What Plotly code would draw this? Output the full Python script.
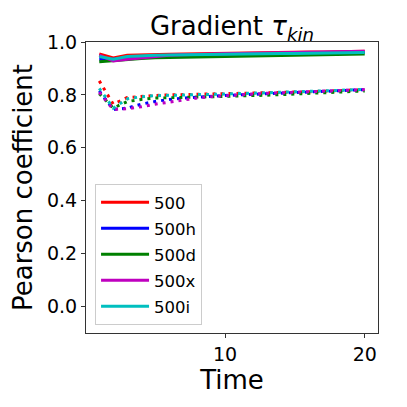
import plotly.graph_objects as go

time = list(range(1, 21))
names = ["500", "500h", "500d", "500x", "500i"]
colors = ["#ff0000", "#0000ff", "#008000", "#bf00bf", "#00bfbf"]

solid = {
    "500":  [0.955, 0.940, 0.950, 0.952, 0.953, 0.954, 0.955, 0.956, 0.957, 0.958,
             0.958, 0.959, 0.960, 0.960, 0.961, 0.962, 0.962, 0.963, 0.964, 0.965],
    "500h": [0.935, 0.935, 0.940, 0.943, 0.945, 0.947, 0.948, 0.949, 0.950, 0.951,
             0.952, 0.953, 0.954, 0.955, 0.955, 0.956, 0.957, 0.958, 0.959, 0.960],
    "500d": [0.925, 0.930, 0.935, 0.938, 0.940, 0.941, 0.942, 0.943, 0.944, 0.945,
             0.946, 0.947, 0.948, 0.949, 0.950, 0.951, 0.952, 0.953, 0.954, 0.955],
    "500x": [0.950, 0.928, 0.935, 0.940, 0.945, 0.950, 0.952, 0.954, 0.955, 0.956,
             0.957, 0.958, 0.959, 0.960, 0.961, 0.962, 0.962, 0.963, 0.964, 0.965],
    "500i": [0.945, 0.935, 0.945, 0.948, 0.950, 0.951, 0.952, 0.953, 0.954, 0.955,
             0.955, 0.956, 0.956, 0.957, 0.957, 0.958, 0.958, 0.959, 0.960, 0.960],
}

dotted = {
    "500":  [0.853, 0.765, 0.790, 0.795, 0.798, 0.800, 0.801, 0.802, 0.803, 0.804,
             0.805, 0.806, 0.808, 0.809, 0.810, 0.812, 0.814, 0.816, 0.818, 0.820],
    "500h": [0.815, 0.745, 0.750, 0.765, 0.775, 0.783, 0.788, 0.792, 0.795, 0.798,
             0.800, 0.802, 0.804, 0.806, 0.808, 0.810, 0.812, 0.815, 0.818, 0.820],
    "500d": [0.805, 0.750, 0.775, 0.783, 0.788, 0.790, 0.791, 0.792, 0.793, 0.794,
             0.795, 0.797, 0.799, 0.801, 0.803, 0.805, 0.807, 0.810, 0.812, 0.815],
    "500x": [0.810, 0.745, 0.748, 0.755, 0.765, 0.773, 0.782, 0.788, 0.793, 0.797,
             0.800, 0.803, 0.806, 0.808, 0.810, 0.812, 0.814, 0.816, 0.818, 0.820],
    "500i": [0.825, 0.750, 0.785, 0.793, 0.797, 0.799, 0.800, 0.801, 0.802, 0.803,
             0.804, 0.806, 0.808, 0.810, 0.811, 0.813, 0.815, 0.817, 0.819, 0.821],
}

xticks = [10, 20]
yticks = [0.0, 0.2, 0.4, 0.6, 0.8, 1.0]
ytick_labels = ["0.0", "0.2", "0.4", "0.6", "0.8", "1.0"]

fig = go.Figure()
for name, col in zip(names, colors):
    fig.add_trace(go.Scatter(x=time, y=solid[name], mode="lines", name=name,
                             legendgroup=name,
                             line=dict(color=col, width=3), showlegend=True))
    fig.add_trace(go.Scatter(x=time, y=dotted[name], mode="lines", name=name,
                             legendgroup=name,
                             line=dict(color=col, width=3, dash="3px,5px"),
                             showlegend=False))

font = "DejaVu Sans"
# the page body has an 8px margin, so the figure is 399px and offset accordingly
fig.update_layout(
    width=399, height=399,
    margin=dict(l=78, r=29, t=34, b=74, autoexpand=False),
    paper_bgcolor="white", plot_bgcolor="white",
    font=dict(family=font, color="black"),
    title=dict(text="Gradient <i>τ</i><sub><i>kin</i></sub>", x=0.5, xref="paper",
               xanchor="center", y=0.932, yanchor="bottom",
               font=dict(size=26, family=font)),
    legend=dict(x=0.031, y=0.027, xanchor="left", yanchor="bottom",
                bgcolor="rgba(255,255,255,0.8)", bordercolor="#cccccc", borderwidth=1,
                font=dict(size=16.5, family=font), tracegroupgap=1.5, itemwidth=48),
    showlegend=True,
)
fig.update_xaxes(range=[0.05, 20.95], tickvals=xticks, ticktext=[str(v) for v in xticks],
                 ticks="outside", ticklen=4, tickcolor="#333", showline=True, linecolor="#333",
                 linewidth=1.2, mirror=True, showgrid=False, zeroline=False, automargin=False,
                 tickfont=dict(size=19), title=dict(text="Time", font=dict(size=26), standoff=0))
fig.update_yaxes(range=[-0.1, 1.0], tickvals=yticks, ticktext=ytick_labels,
                 ticks="outside", ticklen=4, tickcolor="#333", showline=True, linecolor="#333",
                 linewidth=1.2, mirror=True, showgrid=False, zeroline=False, automargin=False,
                 tickfont=dict(size=19), title=dict(text="Pearson coefficient", font=dict(size=26), standoff=17))

fig.write_html("out.html")
